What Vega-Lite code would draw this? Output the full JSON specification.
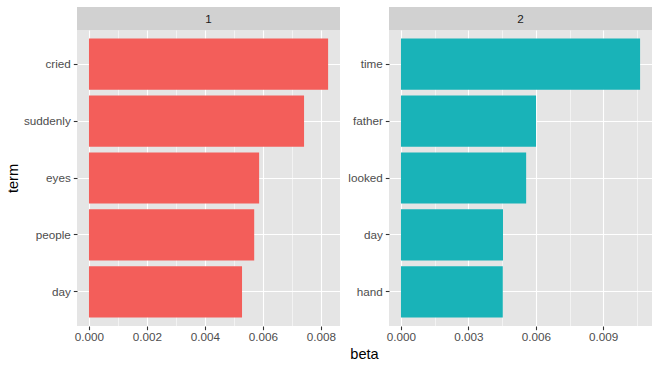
{
  "$schema": "https://vega.github.io/schema/vega-lite/v6.json",
  "padding": {"left": 5, "top": 7, "right": 7, "bottom": 2},
  "background": "white",
  "datasets": {
    "beta": [
      {"topic": 1, "term": "cried", "beta": 0.00825},
      {"topic": 1, "term": "suddenly", "beta": 0.00742},
      {"topic": 1, "term": "eyes", "beta": 0.00587},
      {"topic": 1, "term": "people", "beta": 0.00570},
      {"topic": 1, "term": "day", "beta": 0.00528},
      {"topic": 2, "term": "time", "beta": 0.01064},
      {"topic": 2, "term": "father", "beta": 0.00601},
      {"topic": 2, "term": "looked", "beta": 0.00557},
      {"topic": 2, "term": "day", "beta": 0.00454},
      {"topic": 2, "term": "hand", "beta": 0.00453}
    ],
    "strips": [
      {"topic": "1"},
      {"topic": "2"}
    ]
  },
  "spacing": 7,
  "hconcat": [
    {
      "spacing": 0,
      "vconcat": [
        {
          "width": 263,
          "height": 23,
          "view": {"fill": "#D1D1D1", "stroke": null},
          "data": {"name": "strips"},
          "transform": [{"filter": "datum.topic == '1'"}],
          "mark": {"type": "text", "font": "Liberation Sans", "fontSize": 11.7, "color": "#1A1A1A", "baseline": "middle"},
          "encoding": {"text": {"field": "topic", "type": "nominal"}}
        },
        {
          "width": 263,
          "height": 296,
          "view": {"fill": "#E5E5E5", "stroke": null},
          "data": {"name": "beta"},
          "transform": [{"filter": "datum.topic == 1"}],
          "mark": {"type": "bar", "color": "#F35E5A"},
          "encoding": {
            "x": {
              "field": "beta",
              "type": "quantitative",
              "scale": {"domain": [-0.000413, 0.00866], "nice": false, "zero": false},
              "axis": {
                "values": [0, 0.001, 0.002, 0.003, 0.004, 0.005, 0.006, 0.007, 0.008],
                "labelExpr": "round(datum.value*1000) % 2 == 1 ? '' : format(datum.value, '.3f')",
                "gridWidth": {"condition": {"test": "round(datum.value*1000) % 2 == 1", "value": 0.55}, "value": 1.1},
                "tickOpacity": {"condition": {"test": "round(datum.value*1000) % 2 == 1", "value": 0}, "value": 1},
                "title": null
              }
            },
            "y": {
              "field": "term",
              "type": "nominal",
              "sort": {"field": "beta", "order": "descending"},
              "scale": {"paddingInner": 0.1, "paddingOuter": 0.15},
              "axis": {"title": "term", "minExtent": 54, "maxExtent": 54, "bandPosition": 0.5, "labelPadding": 3}
            }
          }
        }
      ]
    },
    {
      "spacing": 0,
      "vconcat": [
        {
          "width": 263,
          "height": 23,
          "view": {"fill": "#D1D1D1", "stroke": null},
          "data": {"name": "strips"},
          "transform": [{"filter": "datum.topic == '2'"}],
          "mark": {"type": "text", "font": "Liberation Sans", "fontSize": 11.7, "color": "#1A1A1A", "baseline": "middle"},
          "encoding": {"text": {"field": "topic", "type": "nominal"}}
        },
        {
          "width": 263,
          "height": 296,
          "view": {"fill": "#E5E5E5", "stroke": null},
          "data": {"name": "beta"},
          "transform": [{"filter": "datum.topic == 2"}],
          "mark": {"type": "bar", "color": "#19B3B8"},
          "encoding": {
            "x": {
              "field": "beta",
              "type": "quantitative",
              "scale": {"domain": [-0.000532, 0.01117], "nice": false, "zero": false},
              "axis": {
                "values": [0, 0.0015, 0.003, 0.0045, 0.006, 0.0075, 0.009, 0.0105],
                "labelExpr": "round(datum.value*2000) % 2 == 1 ? '' : format(datum.value, '.3f')",
                "gridWidth": {"condition": {"test": "round(datum.value*2000) % 2 == 1", "value": 0.55}, "value": 1.1},
                "tickOpacity": {"condition": {"test": "round(datum.value*2000) % 2 == 1", "value": 0}, "value": 1},
                "title": "beta",
                "titleX": -25
              }
            },
            "y": {
              "field": "term",
              "type": "nominal",
              "sort": {"field": "beta", "order": "descending"},
              "scale": {"paddingInner": 0.1, "paddingOuter": 0.15},
              "axis": {"title": null, "minExtent": 42, "maxExtent": 42, "bandPosition": 0.5, "labelPadding": 3}
            }
          }
        }
      ]
    }
  ],
  "config": {
    "font": "Liberation Sans",
    "axis": {
      "domain": false,
      "grid": true,
      "gridColor": "white",
      "gridWidth": 1.1,
      "tickColor": "#333333",
      "tickSize": 3.7,
      "tickWidth": 1.1,
      "labelColor": "#4D4D4D",
      "labelFont": "Liberation Sans",
      "labelFontSize": 11.7,
      "labelPadding": 2,
      "titleFont": "Liberation Sans",
      "titleFontSize": 14.6,
      "titleFontWeight": "normal",
      "titleColor": "black",
      "titlePadding": 3
    },
    "axisX": {"labelFlush": false},
    "axisY": {"labelFlush": false}
  }
}
